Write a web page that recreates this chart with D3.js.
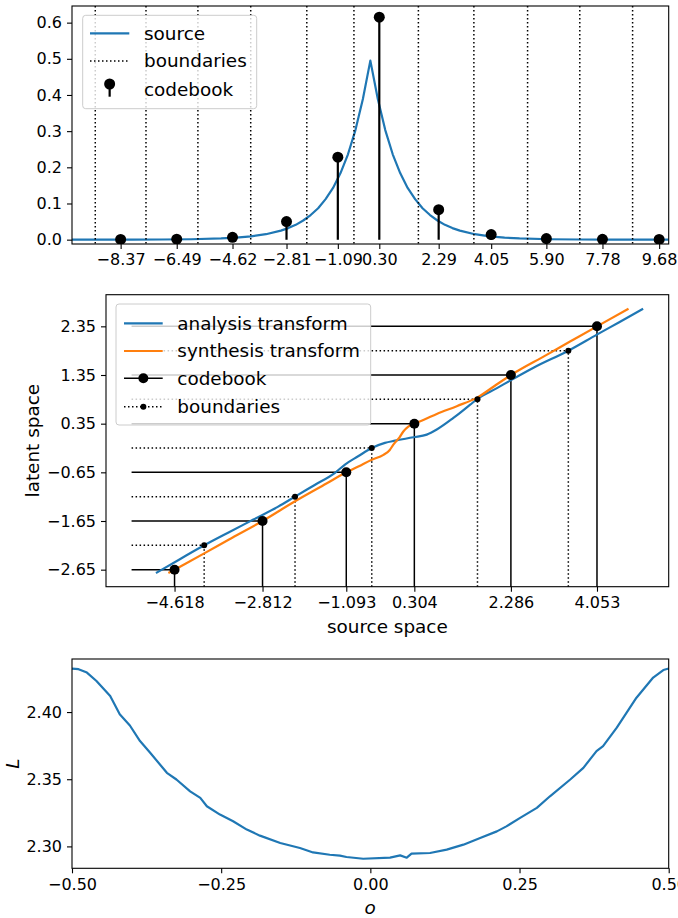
<!DOCTYPE html>
<html>
<head>
<meta charset="utf-8">
<script src="https://cdn.jsdelivr.net/npm/d3@7"></script>
<style>
  html, body { margin: 0; padding: 0; background: #fff; }
  svg { display: block; font-family: "DejaVu Sans", sans-serif; }
</style>
</head>
<body>
<script>
// ---------------- DATA ----------------
// Panel 1: source density
const sourceX = [-10, -9, -8, -7, -6, -5, -4.5, -4, -3.5, -3, -2.75, -2.5, -2.25, -2, -1.75, -1.5, -1.25, -1, -0.75, -0.5, -0.25, 0,
                 0.25, 0.5, 0.75, 1, 1.25, 1.5, 1.75, 2, 2.25, 2.5, 2.75, 3, 3.5, 4, 4.5, 5, 6, 7, 8, 9, 10];
const sourceY = [0.0000, 0.0001, 0.0002, 0.0005, 0.0012, 0.0034, 0.0055, 0.0092, 0.0151, 0.0249, 0.032, 0.041, 0.053, 0.068, 0.087, 0.112, 0.143, 0.184, 0.236, 0.303, 0.389, 0.495,
                 0.389, 0.303, 0.236, 0.184, 0.143, 0.112, 0.087, 0.068, 0.053, 0.041, 0.032, 0.0249, 0.0151, 0.0092, 0.0055, 0.0034, 0.0012, 0.0005, 0.0002, 0.0001, 0.0000];
const codebookTop = [-8.37, -6.49, -4.62, -2.81, -1.09, 0.30, 2.29, 4.05, 5.90, 7.78, 9.68];
const codebookProb = [0.0005, 0.0012, 0.0066, 0.050, 0.228, 0.615, 0.083, 0.014, 0.003, 0.001, 0.0005];
const boundariesTop = [-9.22, -7.52, -5.78, -4.01, -2.13, -0.55, 1.61, 3.47, 5.27, 7.02, 8.79];
const topYTicks = [0.0, 0.1, 0.2, 0.3, 0.4, 0.5, 0.6];

// Panel 2: transforms
const analysisX = [-5.0, -4.5, -4.01, -3.5, -3.0, -2.5, -2.145, -1.75, -1.324, -1.12, -0.85, -0.57, -0.3, -0.09, 0.284, 0.559, 0.764, 1.105, 1.45, 1.60, 2.0, 2.27, 2.75, 3.465, 4.05, 4.5, 5.0];
const analysisY = [-2.72, -2.43, -2.15, -1.88, -1.62, -1.36, -1.15, -0.914, -0.66, -0.49, -0.32, -0.15, -0.045, 0.0, 0.07, 0.125, 0.23, 0.468, 0.74, 0.858, 1.08, 1.235, 1.50, 1.85, 2.18, 2.43, 2.71];
const synthesisX = [-4.745, -4.618, -4.0, -3.5, -2.812, -2.145, -1.5, -1.093, -0.845, -0.57, -0.33, -0.2, -0.127, 0.0, 0.078, 0.18, 0.304, 0.5, 0.764, 1.175, 1.6, 2.0, 2.286, 3.0, 3.5, 4.053, 4.70];
const synthesisY = [-2.72, -2.65, -2.31, -2.03, -1.65, -1.245, -0.88, -0.65, -0.53, -0.39, -0.29, -0.19, -0.08, 0.07, 0.19, 0.29, 0.35, 0.43, 0.55, 0.71, 0.89, 1.16, 1.35, 1.754, 2.037, 2.35, 2.71];
const codebookSource = [-4.618, -2.812, -1.093, 0.304, 2.286, 4.053];
const codebookLatent = [-2.65, -1.65, -0.65, 0.35, 1.35, 2.35];
const boundarySource = [-4.01, -2.145, -0.57, 1.60, 3.465];
const boundaryLatent = [-2.15, -1.15, -0.15, 0.85, 1.85];
const guideStartX = -5.5;

// Panel 3: loss vs offset
const offsetX = [-0.5, -0.489, -0.475, -0.459, -0.436, -0.42, -0.403, -0.386, -0.369, -0.341, -0.325, -0.302, -0.285, -0.274, -0.252, -0.230, -0.207, -0.185, -0.151, -0.118, -0.096, -0.068, -0.051, -0.040, -0.012,
                 0.033, 0.050, 0.061, 0.069, 0.100, 0.128, 0.156, 0.184, 0.212, 0.228, 0.251, 0.279, 0.301, 0.335, 0.357, 0.379, 0.390, 0.413, 0.446, 0.474, 0.491, 0.5];
const lossY = [2.4324, 2.4319, 2.4294, 2.4231, 2.4119, 2.3983, 2.3900, 2.3784, 2.3697, 2.3548, 2.3498, 2.3410, 2.3361, 2.3299, 2.3237, 2.3187, 2.3125, 2.3080, 2.3025, 2.2988, 2.2955, 2.2938, 2.2931, 2.2921, 2.2908,
               2.2916, 2.2933, 2.2916, 2.2946, 2.2951, 2.2976, 2.3013, 2.3063, 2.3112, 2.3149, 2.3212, 2.3287, 2.3373, 2.3498, 2.3585, 2.3709, 2.3746, 2.3884, 2.4107, 2.4257, 2.4313, 2.4324];
const bottomXTicks = [-0.5, -0.25, 0, 0.25, 0.5];
const bottomYTicks = [2.30, 2.35, 2.40];

// ---------------- STYLE ----------------
const W = 678, H = 918;
const BLUE = "#1f77b4", ORANGE = "#ff7f0e";
const TICK_FS = 16, LEG_FS = 18.4, LAB_FS = 18.4;
const TICK_LEN = 5, TICK_PAD = 5;
const DOT = "1.5,2.5";

const svg = d3.select("body").append("svg").attr("width", W).attr("height", H);

function frame(g, x0, x1, y0, y1) {
  g.append("rect").attr("x", x0).attr("y", y0).attr("width", x1 - x0).attr("height", y1 - y0)
    .attr("fill", "none").attr("stroke", "#000").attr("stroke-width", 1.1);
}
function styleAxis(sel) {
  sel.select(".domain").remove();
  sel.selectAll(".tick line").attr("stroke", "#000").attr("stroke-width", 1.1);
  sel.selectAll(".tick text").attr("fill", "#000").attr("font-size", TICK_FS).attr("font-family", "DejaVu Sans");
}
function legendBox(g, x, y, w, h) {
  g.append("rect").attr("x", x).attr("y", y).attr("width", w).attr("height", h).attr("rx", 3)
    .attr("fill", "#fff").attr("fill-opacity", 0.8).attr("stroke", "#cccccc").attr("stroke-width", 1);
}

// ================= PANEL 1 =================
{
  const L = 72, R = 668.7, T = 6, B = 244;
  const x = d3.scaleLinear().domain([-10, 10]).range([L, R]);
  const y = d3.scaleLinear().domain([-0.012, 0.646]).range([B, T]);
  const g = svg.append("g");
  const clipId = "clip1";
  g.append("clipPath").attr("id", clipId).append("rect").attr("x", L).attr("y", T).attr("width", R - L).attr("height", B - T);
  const pg = g.append("g").attr("clip-path", `url(#${clipId})`);

  pg.append("path").datum(sourceX.map((v, i) => [v, sourceY[i]]))
    .attr("fill", "none").attr("stroke", BLUE).attr("stroke-width", 2.2).attr("stroke-linejoin", "round")
    .attr("d", d3.line().x(d => x(d[0])).y(d => y(d[1])));
  pg.selectAll("line.bd").data(boundariesTop).join("line").attr("class", "bd")
    .attr("x1", d => x(d)).attr("x2", d => x(d)).attr("y1", T).attr("y2", B)
    .attr("stroke", "#000").attr("stroke-width", 1.5).attr("stroke-dasharray", DOT);
  pg.selectAll("line.stem").data(codebookTop).join("line").attr("class", "stem")
    .attr("x1", d => x(d)).attr("x2", d => x(d)).attr("y1", y(0)).attr("y2", (d, i) => y(codebookProb[i]))
    .attr("stroke", "#000").attr("stroke-width", 2.2);
  pg.selectAll("circle.cb").data(codebookTop).join("circle").attr("class", "cb")
    .attr("cx", d => x(d)).attr("cy", (d, i) => y(codebookProb[i])).attr("r", 5.5).attr("fill", "#000");

  frame(g, L, R, T, B);
  const xa = g.append("g").attr("transform", `translate(0,${B})`)
    .call(d3.axisBottom(x).tickValues(codebookTop).tickFormat(d3.format(".2f")).tickSize(TICK_LEN).tickPadding(TICK_PAD));
  styleAxis(xa);
  const ya = g.append("g").attr("transform", `translate(${L},0)`)
    .call(d3.axisLeft(y).tickValues(topYTicks).tickFormat(d3.format(".1f")).tickSize(TICK_LEN).tickPadding(TICK_PAD));
  styleAxis(ya);

  const lg = g.append("g");
  legendBox(lg, 82.7, 15.3, 174, 93.4);
  const hx0 = 90, hx1 = 129.3, tx = 144;
  lg.append("line").attr("x1", hx0).attr("x2", hx1).attr("y1", 33.3).attr("y2", 33.3).attr("stroke", BLUE).attr("stroke-width", 2.2);
  lg.append("line").attr("x1", hx0).attr("x2", hx1).attr("y1", 61).attr("y2", 61).attr("stroke", "#000").attr("stroke-width", 1.5).attr("stroke-dasharray", DOT);
  lg.append("line").attr("x1", (hx0 + hx1) / 2).attr("x2", (hx0 + hx1) / 2).attr("y1", 84).attr("y2", 96.7).attr("stroke", "#000").attr("stroke-width", 2.2);
  lg.append("circle").attr("cx", (hx0 + hx1) / 2).attr("cy", 84).attr("r", 5.5).attr("fill", "#000");
  const labels = ["source", "boundaries", "codebook"], ly = [33.3, 61, 89.3];
  labels.forEach((t, i) => lg.append("text").attr("x", tx).attr("y", ly[i]).attr("dy", "0.35em").attr("font-size", LEG_FS).text(t));
}

// ================= PANEL 2 =================
{
  const L = 106, R = 668.7, T = 294.7, B = 586.7;
  const x = d3.scaleLinear().domain([-6.025, 5.525]).range([L, R]);
  const y = d3.scaleLinear().domain([-3, 3]).range([B, T]);
  const g = svg.append("g");

  g.selectAll("line.ch").data(codebookSource).join("line").attr("class", "ch")
    .attr("x1", x(guideStartX)).attr("x2", d => x(d)).attr("y1", (d, i) => y(codebookLatent[i])).attr("y2", (d, i) => y(codebookLatent[i]))
    .attr("stroke", "#000").attr("stroke-width", 1.5);
  g.selectAll("line.cv").data(codebookSource).join("line").attr("class", "cv")
    .attr("x1", d => x(d)).attr("x2", d => x(d)).attr("y1", y(-3)).attr("y2", (d, i) => y(codebookLatent[i]))
    .attr("stroke", "#000").attr("stroke-width", 1.5);
  g.selectAll("line.bh").data(boundarySource).join("line").attr("class", "bh")
    .attr("x1", x(guideStartX)).attr("x2", d => x(d)).attr("y1", (d, i) => y(boundaryLatent[i])).attr("y2", (d, i) => y(boundaryLatent[i]))
    .attr("stroke", "#000").attr("stroke-width", 1.5).attr("stroke-dasharray", DOT);
  g.selectAll("line.bv").data(boundarySource).join("line").attr("class", "bv")
    .attr("x1", d => x(d)).attr("x2", d => x(d)).attr("y1", y(-3)).attr("y2", (d, i) => y(boundaryLatent[i]))
    .attr("stroke", "#000").attr("stroke-width", 1.5).attr("stroke-dasharray", DOT);

  const line = d3.line().x(d => x(d[0])).y(d => y(d[1])).curve(d3.curveMonotoneX);
  g.append("path").datum(analysisX.map((v, i) => [v, analysisY[i]]))
    .attr("fill", "none").attr("stroke", BLUE).attr("stroke-width", 2.2).attr("d", line);
  g.append("path").datum(synthesisX.map((v, i) => [v, synthesisY[i]]))
    .attr("fill", "none").attr("stroke", ORANGE).attr("stroke-width", 2.2).attr("d", line);

  g.selectAll("circle.cb").data(codebookSource).join("circle").attr("class", "cb")
    .attr("cx", d => x(d)).attr("cy", (d, i) => y(codebookLatent[i])).attr("r", 5).attr("fill", "#000");
  g.selectAll("circle.bd").data(boundarySource).join("circle").attr("class", "bd")
    .attr("cx", d => x(d)).attr("cy", (d, i) => y(boundaryLatent[i])).attr("r", 3).attr("fill", "#000");

  frame(g, L, R, T, B);
  const xa = g.append("g").attr("transform", `translate(0,${B})`)
    .call(d3.axisBottom(x).tickValues(codebookSource).tickFormat(d3.format(".3f")).tickSize(TICK_LEN).tickPadding(TICK_PAD));
  styleAxis(xa);
  const ya = g.append("g").attr("transform", `translate(${L},0)`)
    .call(d3.axisLeft(y).tickValues(codebookLatent).tickFormat(d3.format(".2f")).tickSize(TICK_LEN).tickPadding(TICK_PAD));
  styleAxis(ya);

  g.append("text").attr("x", (L + R) / 2).attr("y", 627).attr("dy", "0.35em").attr("text-anchor", "middle")
    .attr("font-size", LAB_FS).text("source space");
  g.append("text").attr("transform", `translate(33,${(T + B) / 2}) rotate(-90)`).attr("dy", "0.35em").attr("text-anchor", "middle")
    .attr("font-size", LAB_FS).text("latent space");

  const lg = g.append("g");
  legendBox(lg, 116, 304, 254.7, 121);
  const hx0 = 124, hx1 = 162.7, hc = (hx0 + hx1) / 2, tx = 177.3;
  const ly = [323.3, 351, 378.3, 406.7];
  lg.append("line").attr("x1", hx0).attr("x2", hx1).attr("y1", ly[0]).attr("y2", ly[0]).attr("stroke", BLUE).attr("stroke-width", 2.2);
  lg.append("line").attr("x1", hx0).attr("x2", hx1).attr("y1", ly[1]).attr("y2", ly[1]).attr("stroke", ORANGE).attr("stroke-width", 2.2);
  lg.append("line").attr("x1", hx0).attr("x2", hx1).attr("y1", ly[2]).attr("y2", ly[2]).attr("stroke", "#000").attr("stroke-width", 1.5);
  lg.append("circle").attr("cx", hc).attr("cy", ly[2]).attr("r", 5).attr("fill", "#000");
  lg.append("line").attr("x1", hx0).attr("x2", hx1).attr("y1", ly[3]).attr("y2", ly[3]).attr("stroke", "#000").attr("stroke-width", 1.5).attr("stroke-dasharray", DOT);
  lg.append("circle").attr("cx", hc).attr("cy", ly[3]).attr("r", 3).attr("fill", "#000");
  const labels = ["analysis transform", "synthesis transform", "codebook", "boundaries"];
  labels.forEach((t, i) => lg.append("text").attr("x", tx).attr("y", ly[i]).attr("dy", "0.35em").attr("font-size", LEG_FS).text(t));
}

// ================= PANEL 3 =================
{
  const L = 72, R = 668.7, T = 659, B = 868.3;
  const x = d3.scaleLinear().domain([-0.5, 0.5]).range([L, R]);
  const y = d3.scaleLinear().domain([2.2837, 2.4395]).range([B, T]);
  const g = svg.append("g");
  g.append("path").datum(offsetX.map((v, i) => [v, lossY[i]]))
    .attr("fill", "none").attr("stroke", BLUE).attr("stroke-width", 2.2).attr("stroke-linejoin", "round")
    .attr("d", d3.line().x(d => x(d[0])).y(d => y(d[1])));
  frame(g, L, R, T, B);
  const xa = g.append("g").attr("transform", `translate(0,${B})`)
    .call(d3.axisBottom(x).tickValues(bottomXTicks).tickFormat(d3.format(".2f")).tickSize(TICK_LEN).tickPadding(TICK_PAD));
  styleAxis(xa);
  const ya = g.append("g").attr("transform", `translate(${L},0)`)
    .call(d3.axisLeft(y).tickValues(bottomYTicks).tickFormat(d3.format(".2f")).tickSize(TICK_LEN).tickPadding(TICK_PAD));
  styleAxis(ya);
  g.append("text").attr("x", (L + R) / 2 - 0.3).attr("y", 908).attr("dy", "0.35em").attr("text-anchor", "middle")
    .attr("font-size", LAB_FS).attr("font-style", "italic").text("o");
  g.append("text").attr("transform", `translate(13,${(T + B) / 2}) rotate(-90)`).attr("dy", "0.35em").attr("text-anchor", "middle")
    .attr("font-size", LAB_FS).attr("font-style", "italic").text("L");
}
</script>
</body>
</html>
